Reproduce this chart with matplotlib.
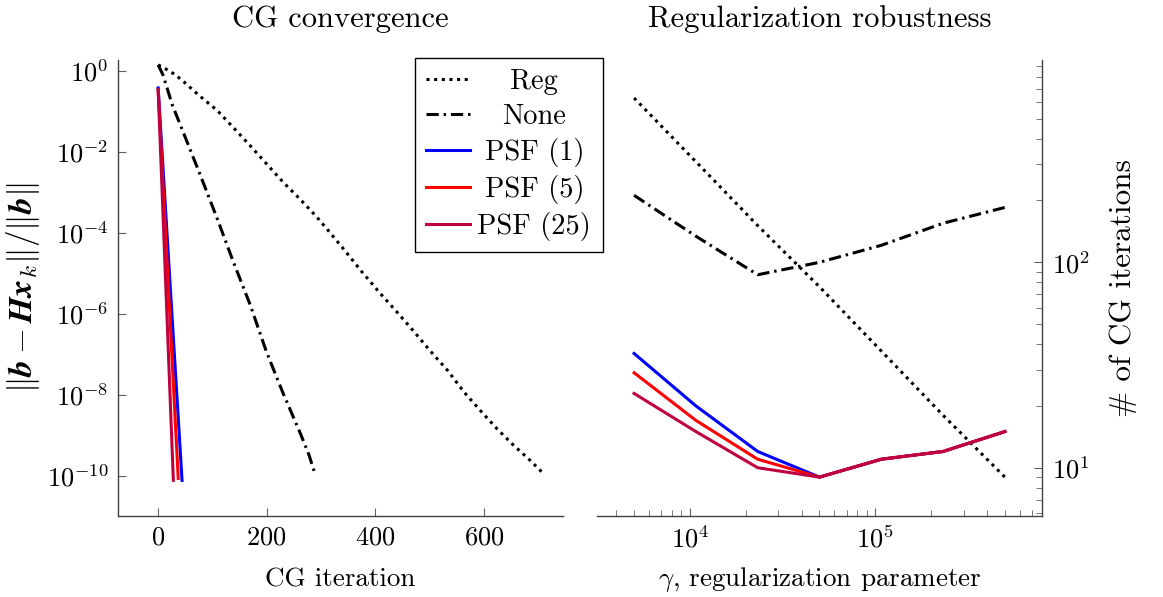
import numpy as np
import matplotlib
matplotlib.use("Agg")
import matplotlib.pyplot as plt
import matplotlib.ticker as mtick

plt.rcParams["font.family"] = "serif"
plt.rcParams["font.serif"] = ["cmr10"]
plt.rcParams["mathtext.fontset"] = "cm"
plt.rcParams["axes.formatter.use_mathtext"] = True

# CG residual histories (iteration, relative residual)
reg_iter = [0, 15, 30, 46, 75, 109, 140, 170, 200, 230, 260, 293, 320, 345,
            375, 409, 440, 470, 500, 533, 565, 594, 625, 655, 685, 712]
reg_res = [1.41, 1.10, 0.83, 0.56, 0.25, 0.105, 3.8e-2, 1.4e-2, 5.0e-3,
           1.8e-3, 7.1e-4, 2.4e-4, 8.9e-5, 3.5e-5, 1.1e-5, 3.2e-6, 1.1e-6,
           3.8e-7, 1.26e-7, 4.0e-8, 1.1e-8, 4.0e-9, 1.4e-9, 5.6e-10,
           2.4e-10, 1.05e-10]

none_iter = [0, 9, 26, 46, 77, 109, 138, 170, 200, 230, 262, 278, 290]
none_res = [1.41, 0.79, 0.145, 3.1e-2, 2.8e-3, 2.2e-4, 2.0e-5, 1.6e-6,
            1.1e-7, 1.1e-8, 1.1e-9, 3.2e-10, 1.0e-10]

psf1_iter = [0, 44]
psf1_res = [0.38, 7.6e-11]
psf5_iter = [0, 37]
psf5_res = [0.34, 8.5e-11]
psf25_iter = [0, 28]
psf25_res = [0.34, 7.6e-11]

# Iterations needed vs. regularization parameter
gammas = [5000, 10772, 23208, 50000, 107722, 232079, 500000]
reg_count = [631, 309, 151, 76, 37, 18, 9]
none_count = [212, 134, 87, 100, 121, 155, 185]
psf1_count = [36, 20, 12, 9, 11, 12, 15]
psf5_count = [29, 17, 11, 9, 11, 12, 15]
psf25_count = [23, 15, 10, 9, 11, 12, 15]

purple = "#BF0040"
lw = 2.2
dotted = (0, (1, 1.5))
dashdot = (0, (4, 1.6, 0.8, 1.6))
spine_color = "#404040"
tick_fs = 19
label_fs = 19.5

fig = plt.figure(figsize=(11.63, 5.97), dpi=100)
ax1 = fig.add_axes([118 / 1163, 81 / 597, 445 / 1163, 456 / 597])
ax2 = fig.add_axes([597 / 1163, 81 / 597, 445 / 1163, 456 / 597])
ax1.set_zorder(3)  # keep the legend above the right panel

# left: convergence histories
ax1.semilogy(reg_iter, reg_res, color="black", lw=lw, ls=dotted,
             dash_capstyle="butt", label="Reg")
ax1.semilogy(none_iter, none_res, color="black", lw=lw, ls=dashdot,
             dash_capstyle="butt", label="None")
ax1.semilogy(psf1_iter, psf1_res, color="blue", lw=lw, label="PSF (1)")
ax1.semilogy(psf5_iter, psf5_res, color="red", lw=lw, label="PSF (5)")
ax1.semilogy(psf25_iter, psf25_res, color=purple, lw=lw, label="PSF (25)")

ax1.set_xlim(-74, 746)
ax1.set_ylim(1e-11, 10 ** 0.27)
ax1.set_xticks([0, 200, 400, 600])
ax1.set_yticks([10.0 ** k for k in range(0, -11, -2)])
ax1.yaxis.set_minor_locator(mtick.NullLocator())
ax1.set_title("CG convergence", fontsize=22, pad=24)
ax1.set_xlabel("CG iteration", fontsize=label_fs, labelpad=13)
ax1.set_ylabel(r"$\|\boldsymbol{b}-\boldsymbol{H}\boldsymbol{x}_k\|/\|\boldsymbol{b}\|$",
               fontsize=24, labelpad=3)
for side in ["top", "right"]:
    ax1.spines[side].set_visible(False)

leg = ax1.legend(loc="upper left", bbox_to_anchor=(0.667, 1.005),
                 borderaxespad=0, fontsize=20.5, fancybox=False, framealpha=1,
                 edgecolor="black", handlelength=1.55, handletextpad=0.25,
                 labelspacing=0.28, borderpad=0.4)
leg.get_frame().set_linewidth(1.0)

# right: iteration counts vs gamma
ax2.loglog(gammas, reg_count, color="black", lw=lw, ls=dotted, dash_capstyle="butt")
ax2.loglog(gammas, none_count, color="black", lw=lw, ls=dashdot, dash_capstyle="butt")
ax2.loglog(gammas, psf1_count, color="blue", lw=lw)
ax2.loglog(gammas, psf5_count, color="red", lw=lw)
ax2.loglog(gammas, psf25_count, color=purple, lw=lw)

ax2.set_xlim(10 ** 3.499, 10 ** 5.899)
ax2.set_ylim(10 ** 0.765, 10 ** 2.985)
ax2.yaxis.tick_right()
ax2.yaxis.set_label_position("right")
ax2.xaxis.set_major_locator(mtick.LogLocator(base=10))
ax2.xaxis.set_minor_locator(mtick.LogLocator(base=10, subs=np.arange(2, 10)))
ax2.xaxis.set_minor_formatter(mtick.NullFormatter())
ax2.yaxis.set_minor_formatter(mtick.NullFormatter())
ax2.set_title("Regularization robustness", fontsize=22, pad=24)
ax2.set_xlabel(r"$\gamma$, regularization parameter", fontsize=label_fs, labelpad=9)
ax2.set_ylabel(r"# of CG iterations", fontsize=22.5, labelpad=14)
for side in ["top", "left"]:
    ax2.spines[side].set_visible(False)

for ax in (ax1, ax2):
    for sp in ax.spines.values():
        sp.set_color(spine_color)
        sp.set_linewidth(1.0)
    ax.tick_params(which="major", direction="in", length=6, width=0.8,
                   color="#606060", labelsize=tick_fs, pad=7)
    ax.tick_params(which="minor", direction="in", length=4, width=0.6,
                   color="#606060")
ax2.tick_params(axis="y", which="both", left=False, right=True)
ax2.tick_params(axis="x", which="both", top=False)

# center the legend entries in their column
fig.canvas.draw()
renderer = fig.canvas.get_renderer()
texts = leg.get_texts()
widths = [t.get_window_extent(renderer).width for t in texts]
for t, w in zip(texts, widths):
    t.set_position(((max(widths) - w) / 2, 0))

fig.savefig("out.png", dpi=100)
